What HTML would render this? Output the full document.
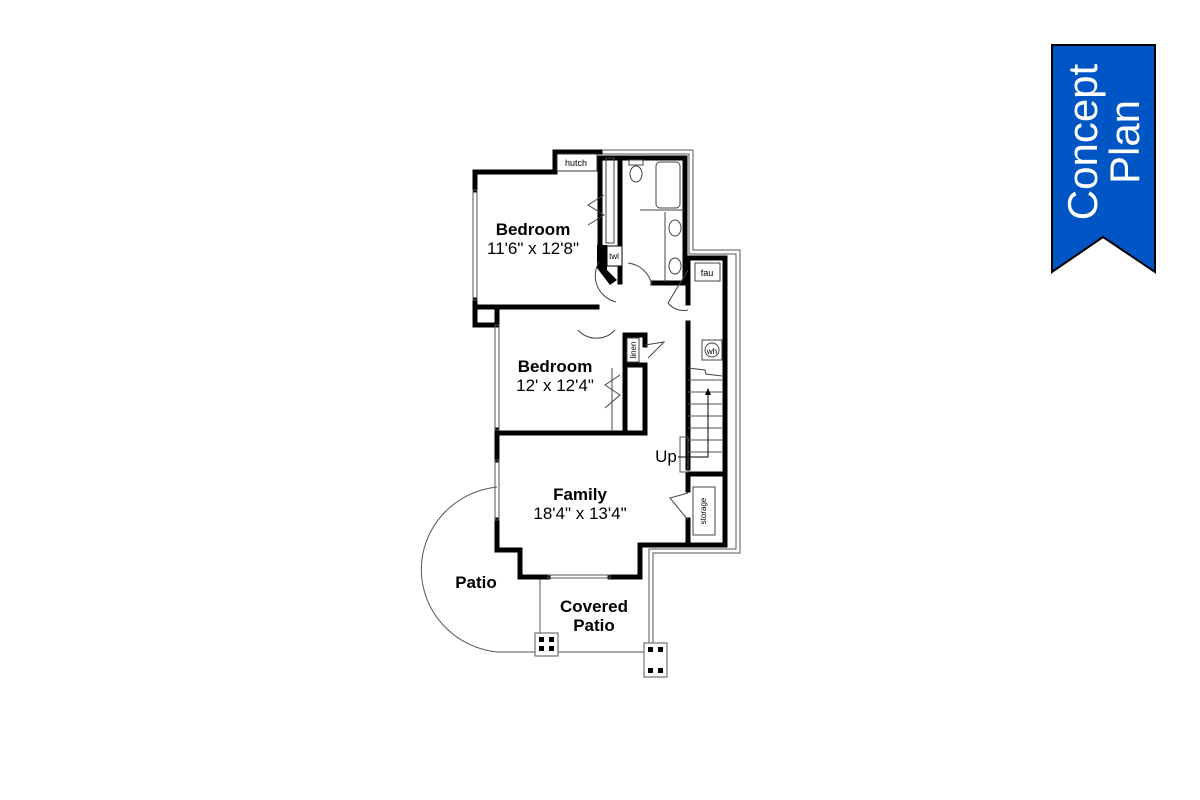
<!DOCTYPE html>
<html><head><meta charset="utf-8"><style>
html,body{margin:0;padding:0;background:#fff;width:1200px;height:800px;overflow:hidden}
svg{display:block}
text{font-family:"Liberation Sans",Arial,sans-serif;fill:#000}
</style></head><body>
<svg width="1200" height="800" viewBox="0 0 1200 800" xmlns="http://www.w3.org/2000/svg">
<g fill="none" stroke="#555" stroke-width="1">
<polyline points="598,150 693,150 693,250 740,250 740,553 653,553 653,650"/>
<polyline points="602,154 689,154 689,254 736,254 736,549 649,549 649,650"/>
</g>
<g fill="none" stroke="#555" stroke-width="1">
<path d="M497,487 A85,83 0 0 0 497,652 L645,652"/>
<line x1="540" y1="579" x2="540" y2="635"/>
</g>
<g>
<rect x="535" y="633" width="23" height="23" fill="#fff" stroke="#555"/>
<rect x="539" y="637" width="5" height="5"/><rect x="549" y="637" width="5" height="5"/>
<rect x="539" y="646" width="5" height="5"/><rect x="549" y="646" width="5" height="5"/>
<rect x="644" y="643" width="23" height="34" fill="#fff" stroke="#555"/>
<rect x="648" y="647" width="5" height="5"/><rect x="658" y="647" width="5" height="5"/>
<rect x="648" y="668" width="5" height="5"/><rect x="658" y="668" width="5" height="5"/>
</g>
<g stroke="#000" stroke-width="5" fill="none" stroke-linecap="square">
<polyline points="475,190 475,172 555,172 555,152 600,152"/>
<polyline points="475,300 475,325 497,325"/>
<line x1="475" y1="307" x2="597" y2="307"/>
<polyline points="600,158 685,158 685,283 653,283"/>
<line x1="620" y1="158" x2="620" y2="282"/>
<line x1="600" y1="158" x2="600" y2="260"/>
<polyline points="497,307 497,325"/>
<polyline points="497,430 497,433 645,433 645,365 628,365"/>
<polyline points="625,335 645,335 645,345"/>
<line x1="625" y1="335" x2="625" y2="433"/>
<polyline points="497,433 497,460"/>
<polyline points="497,520 497,550 520,550 520,577 548,577"/>
<polyline points="610,577 640,577 640,545 725,545 725,258 688,258 688,303"/>
<line x1="688" y1="323" x2="688" y2="468"/>
<line x1="688" y1="474" x2="725" y2="474"/>
<line x1="688" y1="474" x2="688" y2="490"/>
<line x1="688" y1="520" x2="688" y2="545"/>
</g>
<g stroke="#555" stroke-width="1" fill="none">
<rect x="473" y="190" width="4" height="110"/>
<rect x="495" y="325" width="4" height="105"/>
<rect x="495" y="460" width="4" height="60"/>
<rect x="548" y="575" width="62" height="3"/>
</g>
<polygon points="597,245 607,245 607,270 617,280 610,285 597,268" fill="#000"/>
<rect x="607" y="246" width="15" height="20" fill="#fff" stroke="#000"/>
<text x="614" y="259" font-size="8" text-anchor="middle">twl</text>
<rect x="557" y="154" width="40" height="17" fill="#fff" stroke="#333"/>
<text x="576" y="166" font-size="9" text-anchor="middle">hutch</text>
<g fill="none" stroke="#444" stroke-width="1">
<rect x="606" y="158" width="8" height="85"/>
<rect x="656" y="162" width="24" height="46" rx="4"/>
<ellipse cx="636" cy="174" rx="6" ry="8"/><rect x="629" y="160" width="14" height="5"/>
<line x1="640" y1="210" x2="684" y2="210"/>
<line x1="665" y1="212" x2="665" y2="282"/>
<ellipse cx="675" cy="228" rx="6" ry="8"/><ellipse cx="675" cy="266" rx="6" ry="8"/>
<path d="M628,263 A28,28 0 0 1 652,285"/>
<path d="M599,262 A27,27 0 0 0 616,302"/>
<path d="M578,330 A25,25 0 0 0 615,330"/>
<path d="M688,270 L668,303 A20,20 0 0 0 688,310"/>
<rect x="695" y="263" width="25" height="18"/>
<rect x="702" y="340" width="20" height="20"/><circle cx="712" cy="350" r="7"/>
<rect x="627" y="338" width="12" height="24"/>
<path d="M645,345 L664,342 L648,358"/>
<path d="M604,195 L588,205 L604,215 L588,225"/>
<path d="M620,375 L605,385 L620,395 L605,408"/>
<line x1="612" y1="368" x2="612" y2="430"/>
<path d="M688,493 L670,498 L688,520"/>
<rect x="693" y="487" width="22" height="48"/>
<path d="M688,368 L705,370 L706,374 L722,376"/>
</g>
<g stroke="#555" stroke-width="1" fill="none">
<line x1="688" y1="380" x2="722" y2="380"/>
<line x1="688" y1="392" x2="722" y2="392"/>
<line x1="688" y1="404" x2="722" y2="404"/>
<line x1="688" y1="416" x2="722" y2="416"/>
<line x1="688" y1="428" x2="722" y2="428"/>
<line x1="688" y1="440" x2="722" y2="440"/>
<line x1="688" y1="452" x2="722" y2="452"/>
<rect x="680" y="437" width="8" height="35"/>
<polyline points="678,457 708,457 708,393" stroke="#000"/>
</g>
<polygon points="705,395 711,395 708,388" fill="#000"/>
<text x="712" y="354" font-size="8" text-anchor="middle">wh</text>
<text x="707" y="276" font-size="9" text-anchor="middle">fau</text>
<text transform="translate(636,350) rotate(-90)" font-size="8" text-anchor="middle">linen</text>
<text transform="translate(706,511) rotate(-90)" font-size="8" text-anchor="middle">storage</text>
<g font-size="17" text-anchor="middle">
<text x="533" y="235" font-weight="bold">Bedroom</text>
<text x="533" y="254">11'6" x 12'8"</text>
<text x="555" y="372" font-weight="bold">Bedroom</text>
<text x="555" y="391">12' x 12'4"</text>
<text x="580" y="500" font-weight="bold">Family</text>
<text x="580" y="519">18'4" x 13'4"</text>
<text x="476" y="588" font-weight="bold">Patio</text>
<text x="594" y="612" font-weight="bold">Covered</text>
<text x="594" y="631" font-weight="bold">Patio</text>
<text x="666" y="462" font-size="17">Up</text>
</g>
<polygon points="1052,45 1155,45 1155,272 1103,237 1052,272" fill="#0055c4" stroke="#000" stroke-width="2"/>
<text transform="translate(1097,142) rotate(-90)" font-size="42" text-anchor="middle" style="fill:#fff">Concept</text>
<text transform="translate(1139,142) rotate(-90)" font-size="42" text-anchor="middle" style="fill:#fff">Plan</text>
</svg>
</body></html>
